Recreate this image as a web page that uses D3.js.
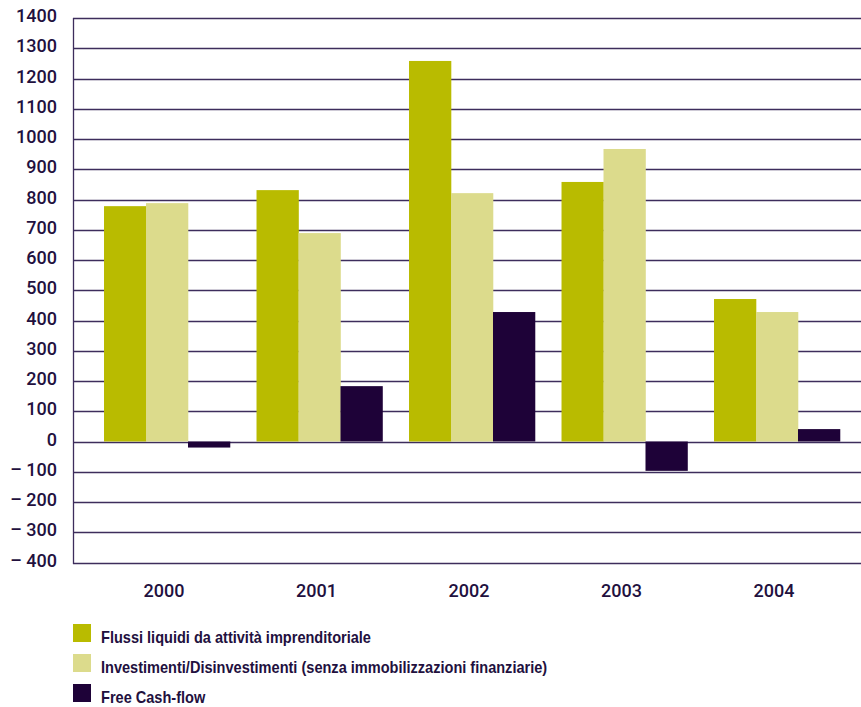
<!DOCTYPE html>
<html>
<head>
<meta charset="utf-8">
<script src="https://cdn.jsdelivr.net/npm/d3@7"></script>
<style>
  body { margin: 0; background: #fff; }
  svg { display: block; }
</style>
</head>
<body>
<svg id="chart" width="861" height="707"></svg>
<script>
// chart data
const years = ["2000", "2001", "2002", "2003", "2004"];
const seriesNames = [
    "Flussi liquidi da attività imprenditoriale",
    "Investimenti/Disinvestimenti (senza immobilizzazioni finanziarie)",
    "Free Cash-flow"
];
const flussi = [778, 831, 1258, 858, 471];
const investimenti = [788, 689, 821, 967, 428];
const freeCashFlow = [-20, 183, 428, -97, 41];
const yTicks = [1400, 1300, 1200, 1100, 1000, 900, 800, 700, 600, 500, 400, 300, 200, 100, 0, -100, -200, -300, -400];
const colors = ["#b9bb00", "#dcdb8c", "#1e0238"];

const seriesValues = [flussi, investimenti, freeCashFlow];
const ink = "#22103e";

const svg = d3.select("#chart");

const plotLeft = 73, plotRight = 861;

const y = d3.scaleLinear()
    .domain([-400, 1400])
    .range([562.5, 18]);

const x = d3.scaleBand()
    .domain(years)
    .range([90.75, 853.25])
    .paddingInner(0.174)
    .paddingOuter(0.087);

const xs = d3.scaleBand()
    .domain(d3.range(seriesNames.length))
    .range([0, x.bandwidth()]);

// gridlines
svg.append("g")
    .selectAll("line")
    .data(yTicks)
    .join("line")
    .attr("x1", plotLeft)
    .attr("x2", plotRight)
    .attr("y1", d => Math.round(y(d)) + 0.5)
    .attr("y2", d => Math.round(y(d)) + 0.5)
    .attr("stroke", "#3d2d5c")
    .attr("stroke-width", 1.3);

// left axis line
svg.append("line")
    .attr("x1", plotLeft + 0.5)
    .attr("x2", plotLeft + 0.5)
    .attr("y1", Math.round(y(1400)))
    .attr("y2", Math.round(y(-400)) + 1)
    .attr("stroke", "#3d2d5c")
    .attr("stroke-width", 1.3);

// tick labels
svg.append("g")
    .selectAll("text")
    .data(yTicks)
    .join("text")
    .attr("x", 57)
    .attr("y", d => y(d) + 4)
    .attr("text-anchor", "end")
    .attr("fill", ink)
    .style("font-family", "Roboto, sans-serif")
    .style("font-weight", "500")
    .style("font-size", "18px")
    .text(d => d < 0 ? "\u2013 " + Math.abs(d) : d);

// bars
const groups = svg.append("g")
    .selectAll("g")
    .data(years)
    .join("g")
    .attr("transform", d => `translate(${x(d)},0)`);

groups.selectAll("rect")
    .data((d, i) => seriesValues.map((s, k) => ({ k, v: s[i] })))
    .join("rect")
    .attr("x", d => xs(d.k))
    .attr("width", xs.bandwidth() + 0.3)
    .attr("y", d => y(Math.max(0, d.v)))
    .attr("height", d => Math.abs(y(d.v) - y(0)))
    .attr("fill", d => colors[d.k]);

// year labels
svg.append("g")
    .selectAll("text")
    .data(years)
    .join("text")
    .attr("x", d => x(d) + x.bandwidth() / 2 - 3)
    .attr("y", 597)
    .attr("text-anchor", "middle")
    .attr("fill", ink)
    .style("font-family", "Roboto, sans-serif")
    .style("font-weight", "500")
    .style("font-size", "18px")
    .text(d => d);

// legend
const legend = svg.append("g")
    .selectAll("g")
    .data(seriesNames)
    .join("g")
    .attr("transform", (d, i) => `translate(73,${624 + i * 30})`);

legend.append("rect")
    .attr("width", 18)
    .attr("height", 18)
    .attr("fill", (d, i) => colors[i]);

legend.append("text")
    .attr("transform", "translate(28,19) scale(0.91,1)")
    .attr("fill", ink)
    .style("font-family", "'Liberation Sans Narrow', sans-serif")
    .style("font-weight", "bold")
    .style("font-size", "16px")
    .text(d => d);
</script>
</body>
</html>
